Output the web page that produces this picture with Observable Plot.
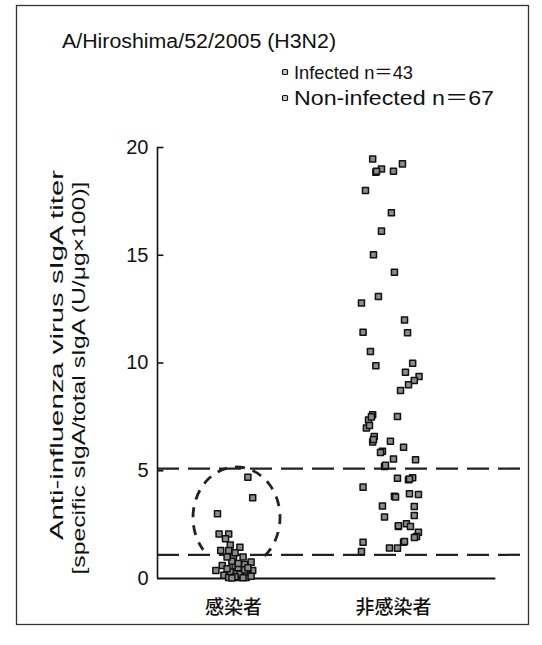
<!DOCTYPE html>
<html>
<head>
<meta charset="utf-8">
<script src="https://cdn.jsdelivr.net/npm/d3@7"></script>
<script src="https://cdn.jsdelivr.net/npm/@observablehq/plot@0.6"></script>
<style>
  html, body { margin: 0; padding: 0; background: #fff; }
  #chart { width: 542px; height: 645px; position: relative; }
</style>
</head>
<body>
<div id="chart"></div>
<script>
// ---- Data ----
const categories = ["感染者", "非感染者"];
const categoryPos = [1, 2];
const yTicks = [0, 5, 10, 15, 20];
const thresholds = [5.1, 1.1];

const infectedValues = [4.7, 3.75, 3.0, 2.07, 2.07, 1.84, 1.55, 1.45, 1.3, 1.3, 1.0, 1.0, 0.6, 0.6, 0.76,
  0.37, 0.37, 0.37, 0.15, 0.14, 0.14, 0.22, 0.05, 0.05, 0.25, 0.1, 0.3, 0.3, 0.45, 0.5, 0.8, 0.65,
  0.2, 0.03, 0.08, 0.1, 0.05, 0.4, 0.7, 1.2, 1.0, 0.5, 0.02];
const infectedJitter = [0.09, 0.12, -0.10, -0.09, -0.03, -0.05, -0.02, 0.04, -0.08, -0.03, 0.0, 0.06, -0.07, 0.01, 0.11,
  -0.11, 0.04, 0.12, -0.06, 0.0, 0.06, 0.09, 0.03, 0.08, 0.02, 0.05, -0.02, 0.08, -0.04, 0.03, -0.01, 0.07,
  0.04, 0.06, 0.01, 0.11, -0.03, 0.07, 0.03, 0.01, -0.04, 0.09, -0.01];

const nonInfectedValues = [19.47, 19.0, 18.85, 18.9, 19.24, 18.0, 16.97, 16.12, 15.02, 14.21, 13.09, 12.78, 12.0, 11.43,
  11.4, 10.53, 9.87, 9.99, 9.57, 9.37, 9.19, 8.99, 8.72, 7.6, 7.36, 7.52, 6.98, 6.59, 6.33, 6.37, 6.09, 5.91, 5.55,
  5.51, 5.2, 4.65, 4.58, 4.67, 4.24, 3.82, 3.93, 3.9, 3.36, 3.34, 2.85, 2.92, 2.41, 2.54, 2.41, 2.15, 1.95, 1.68,
  1.41, 1.42, 1.68, 1.25,
  5.85, 7.5, 18.9, 4.62, 1.9, 2.45, 6.45, 7.1, 5.25, 3.78, 1.72];
const nonInfectedJitter = [-0.13, -0.075, -0.11, 0.0, 0.056, -0.175, -0.013, -0.075, -0.125, 0.006, -0.094, -0.2, 0.069, -0.19,
  0.088, -0.144, -0.11, 0.12, 0.075, 0.16, 0.13, 0.094, 0.044, -0.13, -0.156, 0.025, -0.169, -0.12, -0.13, -0.019, 0.063, -0.069, 0.0,
  0.138, -0.056, 0.025, 0.094, 0.12, -0.19, 0.006, 0.1, 0.156, -0.069, 0.13, -0.056, 0.13, 0.031, 0.081, 0.106, 0.156, 0.144, 0.063,
  0.025, -0.025, -0.19, -0.2,
  -0.081, -0.138, -0.106, 0.1, 0.131, 0.031, -0.125, -0.15, -0.05, 0.013, 0.069];

// dashed ellipse annotation around the infected cluster (data units)
const ellipseCenter = [1.022, 2.81];
const ellipseRadius = [0.272, 2.34];

// ---- Build tables ----
const infected = infectedValues.map((v, i) => ({group: 1, v, j: infectedJitter[i]}));
const nonInfected = nonInfectedValues.map((v, i) => ({group: 2, v, j: nonInfectedJitter[i]}));

const xMin = 0.525, xMax = 2.794, xAxisEnd = 2.64;
const font = "'Liberation Sans', Arial, 'Noto Sans CJK JP', sans-serif";

const plot = Plot.plot({
  width: 542,
  height: 645,
  marginLeft: 157,
  marginRight: 22,
  marginTop: 147,
  marginBottom: 67,
  x: {domain: [xMin, xMax]},
  y: {domain: [0, 20]},
  style: {fontFamily: font, background: "transparent", color: "#111"},
  marks: [
    Plot.ruleY(thresholds, {x1: xMin, x2: xMax, stroke: "#222", strokeWidth: 2.3, strokeDasharray: "22,9"}),
    Plot.ruleX([xMin], {y1: 0, y2: 20, stroke: "#111", strokeWidth: 1.6}),
    Plot.ruleY([0], {x1: xMin, x2: xAxisEnd, stroke: "#111", strokeWidth: 2.2}),
    Plot.ruleY(yTicks.filter(d => d > 0), {x1: xMin, x2: xMin + 0.04, stroke: "#111", strokeWidth: 1.6}),
    Plot.axisY({ticks: yTicks, tickSize: 0, tickPadding: 9, fontSize: 20, label: null}),
    Plot.axisX({ticks: categoryPos, tickFormat: d => categories[d - 1], tickSize: 0, tickPadding: 22,
      fontSize: 19, label: null, fontFamily: "'Noto Sans CJK JP', sans-serif", fontWeight: 500}),
    Plot.dot(nonInfected, {x: d => d.group + d.j, y: "v", symbol: "square", r: 3.4,
      fill: "#8c8c8c", stroke: "#111", strokeWidth: 1.5, strokeLinejoin: "round"}),
    Plot.dot(infected, {x: d => d.group + d.j, y: "v", symbol: "square", r: 3.4,
      fill: "#8c8c8c", stroke: "#111", strokeWidth: 1.5, strokeLinejoin: "round"})
  ]
});

document.getElementById("chart").appendChild(plot);

// ---- Annotations ----
const svg = d3.select(plot);
const sx = plot.scale("x"), sy = plot.scale("y");
const cx = sx.apply(ellipseCenter[0]), cy = sy.apply(ellipseCenter[1]);
const rx = sx.apply(ellipseCenter[0] + ellipseRadius[0]) - cx;
const ry = sy.apply(ellipseCenter[1] - ellipseRadius[1]) - cy;
const a0 = 50 * Math.PI / 180, a1 = 140 * Math.PI / 180;
const p0 = [cx + rx * Math.cos(a0), cy + ry * Math.sin(a0)];
const p1 = [cx + rx * Math.cos(a1), cy + ry * Math.sin(a1)];
svg.append("path")
  .attr("d", `M${p0[0]},${p0[1]} A${rx},${ry} 0 1 0 ${p1[0]},${p1[1]}`)
  .attr("fill", "none").attr("stroke", "#222").attr("stroke-width", 2.8)
  .attr("stroke-dasharray", "10,8");

// border frame
svg.append("rect").attr("x", 16.5).attr("y", 5.5).attr("width", 512).attr("height", 619)
  .attr("fill", "none").attr("stroke", "#333").attr("stroke-width", 1.3);

// title
svg.append("text").attr("x", 62).attr("y", 48).attr("font-size", 20).attr("font-family", font)
  .attr("text-anchor", "start")
  .attr("fill", "#111").attr("textLength", 274).attr("lengthAdjust", "spacingAndGlyphs")
  .text("A/Hiroshima/52/2005 (H3N2)");

// legend
const legend = [["Infected n＝43", 72, 119, 19], ["Non-infected n＝67", 98, 200, 20]];
legend.forEach(([label, y, len, fs]) => {
  svg.append("rect").attr("x", 282.5).attr("y", y - 2.5).attr("width", 5).attr("height", 5).attr("rx", 1)
    .attr("fill", "#ccc").attr("stroke", "#111").attr("stroke-width", 1.2);
  svg.append("text").attr("x", 294).attr("y", y + 7).attr("font-size", fs).attr("font-family", font)
    .attr("text-anchor", "start")
    .attr("fill", "#111").attr("textLength", len).attr("lengthAdjust", "spacingAndGlyphs").text(label);
});

// y axis title (two lines)
const yLab = [["Anti-influenza virus sIgA titer", 58, 355, 370],
              ["[specific sIgA/total sIgA (U/μg×100)]", 80, 378, 393]];
yLab.forEach(([label, x, y, len]) => {
  svg.append("text").attr("transform", `translate(${x},${y}) rotate(-90)`)
    .attr("text-anchor", "middle").attr("dominant-baseline", "middle")
    .attr("font-size", 18).attr("font-family", font).attr("fill", "#111")
    .attr("textLength", len).attr("lengthAdjust", "spacingAndGlyphs").text(label);
});
</script>
</body>
</html>
